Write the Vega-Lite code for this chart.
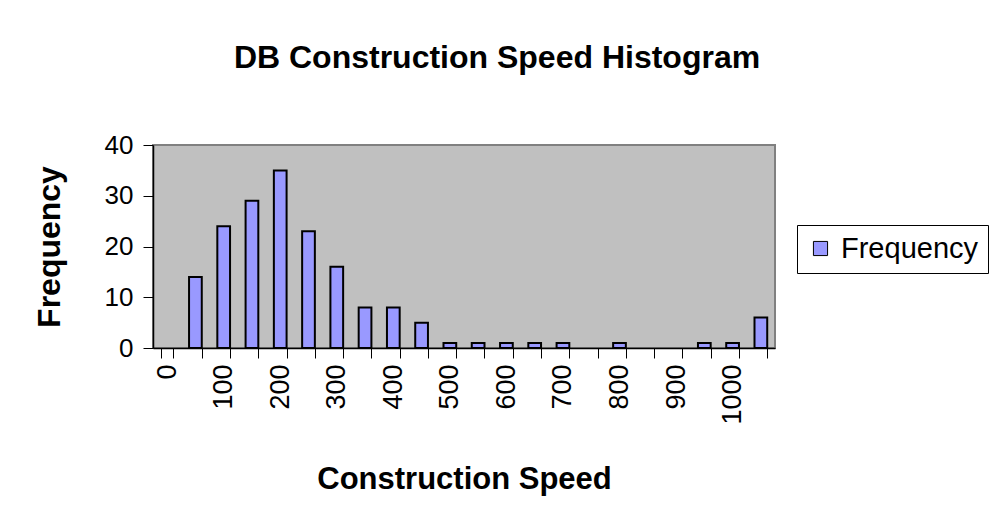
{
  "$schema": "https://vega.github.io/schema/vega-lite/v6.json",
  "autosize": "none",
  "width": 622,
  "height": 203,
  "padding": {"left": 153, "top": 145, "right": 220, "bottom": 184},
  "background": "white",
  "title": {
    "text": "DB Construction Speed Histogram",
    "font": "Liberation Sans",
    "fontSize": 32,
    "fontWeight": "bold",
    "color": "black",
    "anchor": "middle",
    "frame": "group",
    "dx": 33,
    "offset": 57
  },
  "data": {
    "values": [
      {"speed": 0, "freq": 0},
      {"speed": 50, "freq": 14},
      {"speed": 100, "freq": 24},
      {"speed": 150, "freq": 29},
      {"speed": 200, "freq": 35},
      {"speed": 250, "freq": 23},
      {"speed": 300, "freq": 16},
      {"speed": 350, "freq": 8},
      {"speed": 400, "freq": 8},
      {"speed": 450, "freq": 5},
      {"speed": 500, "freq": 1},
      {"speed": 550, "freq": 1},
      {"speed": 600, "freq": 1},
      {"speed": 650, "freq": 1},
      {"speed": 700, "freq": 1},
      {"speed": 750, "freq": 0},
      {"speed": 800, "freq": 1},
      {"speed": 850, "freq": 0},
      {"speed": 900, "freq": 0},
      {"speed": 950, "freq": 1},
      {"speed": 1000, "freq": 1},
      {"speed": 1050, "freq": 6}
    ]
  },
  "mark": {"type": "bar", "stroke": "black", "strokeWidth": 2},
  "encoding": {
    "x": {
      "field": "speed",
      "type": "ordinal",
      "sort": "ascending",
      "scale": {"paddingInner": 0.55, "paddingOuter": 0.275},
      "axis": {
        "title": "Construction Speed",
        "titleFont": "Liberation Sans",
        "titleFontSize": 31,
        "titleFontWeight": "bold",
        "titleColor": "black",
        "titlePadding": 40,
        "labelFont": "Liberation Sans",
        "labelFontSize": 27,
        "labelColor": "black",
        "labelAngle": 270,
        "labelPadding": 6,
        "labelExpr": "datum.value % 100 == 0 ? datum.label : ''",
        "tickBand": "extent",
        "tickSize": 10,
        "tickColor": "black",
        "domainColor": "black",
        "domainWidth": 1.5,
        "labelOverlap": false
      }
    },
    "y": {
      "field": "freq",
      "type": "quantitative",
      "scale": {"domain": [0, 40]},
      "axis": {
        "title": "Frequency",
        "values": [0, 10, 20, 30, 40],
        "grid": false,
        "titleFont": "Liberation Sans",
        "titleFontSize": 32,
        "titleFontWeight": "bold",
        "titleColor": "black",
        "titlePadding": 38,
        "labelFont": "Liberation Sans",
        "labelFontSize": 26,
        "labelColor": "black",
        "labelPadding": 10,
        "tickSize": 10,
        "tickColor": "black",
        "domainColor": "black",
        "domainWidth": 1.5
      }
    },
    "strokeOpacity": {
      "condition": {"test": "datum.freq == 0", "value": 0},
      "value": 1
    },
    "color": {
      "datum": "Frequency",
      "scale": {"range": ["#9999FF"]},
      "legend": {
        "title": null,
        "orient": "none",
        "legendX": 644,
        "legendY": 80,
        "strokeColor": "black",
        "fillColor": "white",
        "padding": 9,
        "symbolType": "square",
        "symbolSize": 200,
        "symbolStrokeColor": "black",
        "symbolStrokeWidth": 1,
        "symbolOpacity": 1,
        "labelFont": "Liberation Sans",
        "labelFontSize": 29,
        "labelColor": "black",
        "labelOffset": 6
      }
    }
  },
  "config": {
    "view": {"fill": "#C0C0C0", "stroke": "#808080", "strokeWidth": 2}
  }
}
